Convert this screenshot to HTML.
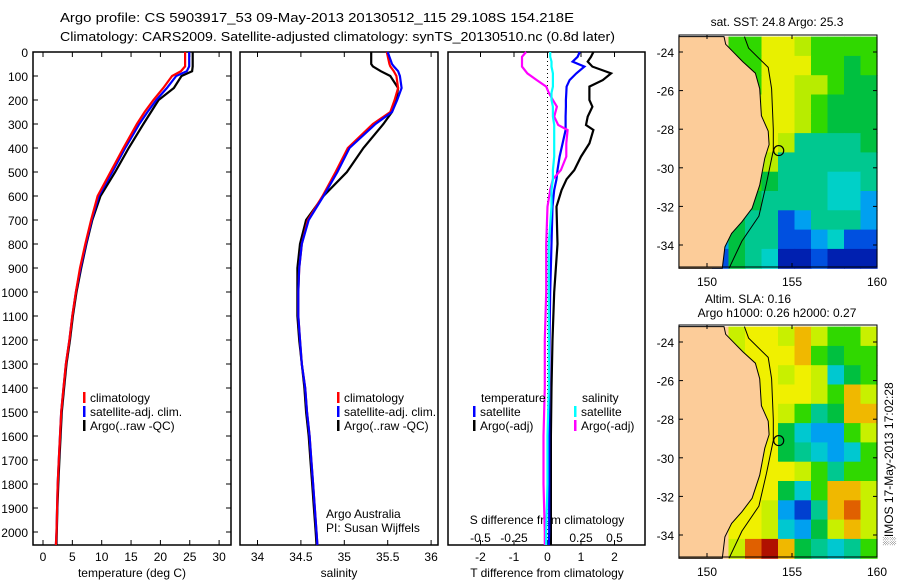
<!DOCTYPE html>
<html><head><meta charset="utf-8">
<style>
html,body{margin:0;padding:0;background:#fff;}
svg{display:block;font-family:"Liberation Sans",sans-serif;}
text{font-size:12px;fill:#000;}
</style></head>
<body>
<svg id="fig" width="900" height="580" viewBox="0 0 900 580" xmlns="http://www.w3.org/2000/svg">
<text x="60" y="22" style="font-size:13px" textLength="514" lengthAdjust="spacingAndGlyphs">Argo profile: CS 5903917_53 09-May-2013 20130512_115 29.108S 154.218E</text>
<text x="60" y="41" style="font-size:13px" textLength="555" lengthAdjust="spacingAndGlyphs">Climatology: CARS2009. Satellite-adjusted climatology: synTS_20130510.nc (0.8d later)</text>
<g id="g"></g>
</svg>
<script>
// ---------- data ----------
const depths = [0,50,60,80,100,150,200,250,300,400,500,600,700,800,900,1000,1100,1200,1300,1400,1500,1600,1700,1800,1900,2000,2054];
const tempClim = [24.2,24.2,24.2,23.5,22,20.5,18.8,17.3,16,13.7,11.5,9.3,8.2,7.2,6.3,5.6,5.0,4.5,3.9,3.5,3.1,2.9,2.7,2.5,2.4,2.3,2.2];
const tempSat = [24.9,24.9,24.9,24.5,22.7,21.1,19.3,17.8,16.4,14.0,11.8,9.5,8.3,7.3,6.4,5.6,5.0,4.5,3.9,3.5,3.1,2.9,2.7,2.5,2.4,2.3,2.2];
const tempArgo = [25.5,25.5,25.5,25.4,23.6,22.3,19.7,18.4,17.1,14.6,12.3,9.8,8.4,7.4,6.5,5.7,5.1,4.6,4.0,3.6,3.2,3.0,2.8,2.6,2.45,2.35,2.3];
const salClim = [35.49,35.52,35.53,35.57,35.6,35.62,35.58,35.53,35.33,35.04,34.9,34.75,34.58,34.51,34.48,34.47,34.47,34.49,34.51,34.55,34.57,34.6,34.62,34.64,34.66,34.68,34.69];
const salSat = [35.5,35.55,35.57,35.62,35.64,35.66,35.61,35.55,35.36,35.06,34.92,34.76,34.59,34.51,34.48,34.47,34.47,34.49,34.51,34.55,34.57,34.6,34.62,34.64,34.66,34.68,34.69];
const salArgo = [35.31,35.31,35.33,35.42,35.53,35.62,35.6,35.55,35.45,35.22,35.03,34.76,34.56,34.49,34.46,34.46,34.46,34.48,34.51,34.54,34.56,34.59,34.61,34.63,34.65,34.67,34.68];
const diffDepths = [0,20,40,61,89,117,144,170,200,228,269,304,325,381,436,492,530,575,644,800,1000,1200,1400,1600,1800,2000,2054];
const dTempArgo = [1.37,1.3,1.2,1.34,1.9,1.65,1.25,1.25,1.25,1.34,1.2,1.15,1.37,1.25,1.0,0.8,0.57,0.42,0.27,0.3,0.2,0.15,0.12,0.1,0.1,0.1,0.1];
const dTempSat = [0.96,0.9,0.75,1.1,0.86,0.66,0.57,0.56,0.55,0.55,0.54,0.54,0.54,0.45,0.36,0.3,0.27,0.2,0.15,0.12,0.08,0.06,0.05,0.05,0.05,0.05,0.04];
const dSalSat = [0.02,0.02,0.03,0.03,0.04,0.04,0.04,0.03,0.03,0.04,0.04,0.05,0.05,0.05,0.05,0.04,0.04,0.03,0.03,0.01,0.01,0.01,0.01,0.0,0.0,-0.01,-0.01];
const dSalArgo = [-0.16,-0.19,-0.19,-0.19,-0.15,-0.08,-0.01,0.01,0.04,0.07,0.05,0.08,0.15,0.14,0.14,0.1,0.04,0.02,0,-0.01,-0.01,-0.02,-0.02,-0.03,-0.03,-0.02,-0.02];
const depthTicks = [0,100,200,300,400,500,600,700,800,900,1000,1100,1200,1300,1400,1500,1600,1700,1800,1900,2000];
const tempTicks = [0,5,10,15,20,25,30];
const salTicks = [34,34.5,35,35.5,36];
const dTempTicks = [-2,-1,0,1,2];
const dSalTicks = [-0.5,-0.25,0,0.25,0.5];
const dSalTickLabels = ["-0.5","-0.25","0","0.25","0.5"];
const latTicks = [-24,-26,-28,-30,-32,-34];
const lonTicks = [150,155,160];
const sstRows = ["LLLGGYYyGGGG","LLLGGYYYGGgG","LLLLGYYyyGgg","LLLLyYYyGggg","LLLLyYYyGggg","LLLLyYyTTTTg","LLLLGyTTTTTT","LLLLGgTTTCCT","LLLGgTTTTCCB","LLLgTTbBTTTB","LLBgTTbbBCbb","LLbgTCDDbDDD"];
const slaRows = ["LLLyYYyOyGGy","LLLyYYYOGgGG","LLLLYYyYyCgG","LLLLYYYYyGOy","LLLLYYyGTgOO","LLLLYYgCBBGy","LLLLYYgTCBCG","LLLLYYYyGTGG","LLLYYYgCGOOy","LLLYYyBbTORy","LLLYYyCBgyOy","LLLyRrOgTCTG"];
const sstColors = {L:"#fccc99",Y:"#e8f000",y:"#b8ec00",G:"#30d800",g:"#00c040",T:"#00c890",C:"#00d0c8",B:"#00a0f0",b:"#0050e0",D:"#0020b0"};
const slaColors = {L:"#fccc99",Y:"#f0f000",y:"#c8f000",O:"#f0b800",R:"#e06000",r:"#b01000",G:"#30d800",g:"#00c040",T:"#00c890",C:"#00c8d0",B:"#00a0f0",b:"#0040d0",D:"#001890"};
const coast = [[148.35,-23.2],[151.0,-23.2],[151.1,-23.6],[152.1,-24.5],[152.85,-25.1],[153.1,-25.9],[153.2,-27.3],[153.6,-28.1],[153.65,-28.8],[153.4,-29.5],[153.1,-30.9],[152.65,-32.1],[152.05,-32.8],[151.45,-33.4],[151.05,-34.1],[150.9,-35.2],[148.35,-35.2]];
const isobath = [[152.2,-23.2],[152.45,-23.8],[153.6,-24.8],[153.8,-25.9],[153.9,-28.0],[153.9,-29.1],[153.5,-30.8],[153.05,-32.5],[152.05,-33.8],[151.3,-35.2]];
const floatLon = 154.218, floatLat = -29.108;

// ---------- helpers ----------
const NS="http://www.w3.org/2000/svg";
const G=document.getElementById('g');
function mk(tag,attrs,parent){const e=document.createElementNS(NS,tag);for(const k in attrs)e.setAttribute(k,attrs[k]);(parent||G).appendChild(e);return e;}
function txt(s,x,y,anchor,parent){const t=mk('text',{x:x,y:y,'text-anchor':anchor||'start'},parent);t.textContent=s;return t;}
const yD = d => 52 + 0.24*d;
const xT = t => 43 + 5.87*t;
const xS = s => 257.5 + 86.8*(s-34);
const xDT = t => 547.5 + 33.5*t;
const xDS = s => 547.5 + 134*s;
const lonX = lon => 707 + 17*(lon-150);
const latY = (lat,top) => top + 17 + 19.3*(-24-lat);

// ---------- profile panels ----------
function frame(x0,x1,name){
  const r=mk('rect',{x:x0,y:52,width:x1-x0,height:493,fill:'none',stroke:'#000','stroke-width':1.5});
  
  
}
frame(33,231,'temperature-panel');
frame(240,438,'salinity-panel');
frame(448,645,'difference-panel');

depthTicks.forEach(d=>{
  const l=txt(String(d),28,yD(d)+5,'end');
  
  
  mk('line',{x1:33,x2:38,y1:yD(d),y2:yD(d),stroke:'#000'});
  mk('line',{x1:226,x2:231,y1:yD(d),y2:yD(d),stroke:'#000'});
});
tempTicks.forEach(t=>{
  mk('line',{x1:xT(t),x2:xT(t),y1:52,y2:57,stroke:'#000'});
  mk('line',{x1:xT(t),x2:xT(t),y1:540,y2:545,stroke:'#000'});
  const l=txt(String(t),xT(t),561,'middle');
  
  
});
salTicks.forEach(s=>{
  mk('line',{x1:xS(s),x2:xS(s),y1:52,y2:57,stroke:'#000'});
  mk('line',{x1:xS(s),x2:xS(s),y1:540,y2:545,stroke:'#000'});
  const l=txt(String(s),xS(s),561,'middle');
  
  
});
dTempTicks.forEach(t=>{
  mk('line',{x1:xDT(t),x2:xDT(t),y1:52,y2:57,stroke:'#000'});
  mk('line',{x1:xDT(t),x2:xDT(t),y1:540,y2:545,stroke:'#000'});
  const l=txt(String(t),xDT(t),561,'middle');
  
  
});
dSalTicks.forEach((s,i)=>{
  const l=txt(dSalTickLabels[i],xDS(s),542,'middle');
  
  
});
[['temperature (deg C)',132,'temperature-axis-title'],['salinity',339,'salinity-axis-title'],['T difference from climatology',547,'t-difference-axis-title']].forEach(a=>{
  const l=txt(a[0],a[1],577,'middle');
  
  
});
const sdt=txt('S difference from climatology',547,524,'middle');



const zl=mk('line',{x1:xDT(0),x2:xDT(0),y1:53,y2:544,stroke:'#000','stroke-dasharray':'1,3'});



function series(xs,ds,xf,color,name){
  const pts=xs.map((v,i)=>xf(v).toFixed(1)+','+yD(ds[i]).toFixed(1)).join(' ');
  const p=mk('polyline',{points:pts,fill:'none',stroke:color,'stroke-width':2.2,'stroke-linejoin':'miter'});
  
  
}
series(tempArgo,depths,xT,'#000','temperature-argo-line');
series(tempSat,depths,xT,'#0000ff','temperature-satellite-line');
series(tempClim,depths,xT,'#ff0000','temperature-climatology-line');
series(salArgo,depths,xS,'#000','salinity-argo-line');
series(salClim,depths,xS,'#ff0000','salinity-climatology-line');
series(salSat,depths,xS,'#0000ff','salinity-satellite-line');
series(dTempArgo,diffDepths,xDT,'#000','t-diff-argo-line');
series(dTempSat,diffDepths,xDT,'#0000ff','t-diff-satellite-line');
series(dSalArgo,diffDepths,xDS,'#ff00ff','s-diff-argo-line');
series(dSalSat,diffDepths,xDS,'#00ffff','s-diff-satellite-line');

function legendItem(x,y,color,label,name){
  const b=mk('rect',{x:x,y:y-10,width:2.5,height:11,fill:color});
  
  
  const t=txt(label,x+7,y);
  
  
}
legendItem(83,402,'#ff0000','climatology','legend-climatology');
legendItem(83,416,'#0000ff','satellite-adj. clim.','legend-satellite-adj');
legendItem(83,430,'#000','Argo(..raw -QC)','legend-argo');
legendItem(337,402,'#ff0000','climatology','legend-sal-climatology');
legendItem(337,416,'#0000ff','satellite-adj. clim.','legend-sal-satellite-adj');
legendItem(337,430,'#000','Argo(..raw -QC)','legend-sal-argo');
const lt=txt('temperature',481,402);
const ls=txt('salinity',582,402);
legendItem(473,416,'#0000ff','satellite','legend-t-satellite');
legendItem(473,430,'#000','Argo(-adj)','legend-t-argo');
legendItem(574,416,'#00ffff','satellite','legend-s-satellite');
legendItem(574,430,'#ff00ff','Argo(-adj)','legend-s-argo');
const c1=txt('Argo Australia',326,518);
const c2=txt('PI: Susan Wijffels',326,532);

// ---------- maps ----------
function drawMap(top,rows,colors,name){
  const grp=mk('g',{});
  
  
  const lon0=148.35, lat0=-23.2, dLon=(160-148.35)/12, dLat=1;
  rows.forEach((row,r)=>{
    for(let c=0;c<row.length;c++){
      const x0=lonX(lon0+c*dLon), x1=lonX(lon0+(c+1)*dLon);
      const y0=latY(lat0-r*dLat,top), y1=latY(lat0-(r+1)*dLat,top);
      const cell=mk('rect',{x:x0.toFixed(1),y:y0.toFixed(1),width:(x1-x0+0.6).toFixed(1),height:(y1-y0+0.6).toFixed(1),fill:colors[row[c]]},grp);
      
      
    }
  });
  const land=mk('polygon',{points:coast.map(p=>lonX(p[0]).toFixed(1)+','+latY(p[1],top).toFixed(1)).join(' '),fill:'#fccc99',stroke:'#000','stroke-width':1},grp);
  
  
  const iso=mk('polyline',{points:isobath.map(p=>lonX(p[0]).toFixed(1)+','+latY(p[1],top).toFixed(1)).join(' '),fill:'none',stroke:'#000','stroke-width':1},grp);
  
  
  const fl=mk('circle',{cx:lonX(floatLon),cy:latY(floatLat,top),r:5,fill:'none',stroke:'#000','stroke-width':1.2},grp);
  
  
  const fr=mk('rect',{x:679,y:top,width:198,height:232,fill:'none',stroke:'#000','stroke-width':1},grp);
  
  
  latTicks.forEach(l=>{
    const y=latY(l,top);
    mk('line',{x1:679,x2:683,y1:y,y2:y,stroke:'#000'},grp);
    mk('line',{x1:873,x2:877,y1:y,y2:y,stroke:'#000'},grp);
    const t=txt(String(l),674,y+5,'end',grp);
    
    
  });
  lonTicks.forEach(l=>{
    const x=lonX(l);
    mk('line',{x1:x,x2:x,y1:top,y2:top+4,stroke:'#000'},grp);
    mk('line',{x1:x,x2:x,y1:top+228,y2:top+232,stroke:'#000'},grp);
    const t=txt(String(l),x,top+251,'middle',grp);
    
    
  });
}
drawMap(35,sstRows,sstColors,'sst-map');
drawMap(325,slaRows,slaColors,'sla-map');
const m1=txt('sat. SST: 24.8 Argo: 25.3',777,26,'middle');
const m2=txt('Altim. SLA: 0.16',748,303,'middle');
const m3=txt('Argo h1000: 0.26 h2000: 0.27',777,317,'middle');
const ts=mk('text',{x:0,y:0,'text-anchor':'middle',transform:'translate(893,464) rotate(-90)'});
ts.textContent='\u2591IMOS 17-May-2013 17:02:28';


</script>
</body></html>
